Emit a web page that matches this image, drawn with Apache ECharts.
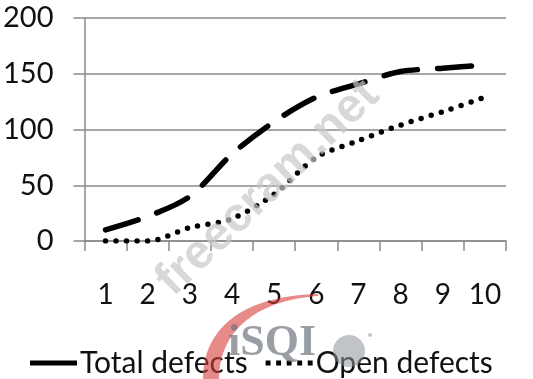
<!DOCTYPE html>
<html>
<head>
<meta charset="utf-8">
<script src="https://cdn.jsdelivr.net/npm/echarts@6/dist/echarts.min.js"></script>
<style>html,body{margin:0;padding:0;background:#fff}#c{width:533px;height:379px}</style>
</head>
<body>
<div id="c"></div>
<script>
var categories = ['1','2','3','4','5','6','7','8','9','10'];
var totalDefects = [10, 22, 40, 78, 107, 129, 141, 152, 155, 158];
var openDefects = [0, 0, 12, 20, 42, 75, 90, 104, 116, 129];
var seriesNames = ['Total defects', 'Open defects'];
var yTicks = [0, 50, 100, 150, 200];

function bez(p0, p1, p2, p3, n) {
  var pts = [];
  for (var i = 0; i <= n; i++) {
    var t = i / n, u = 1 - t;
    pts.push([
      u*u*u*p0[0] + 3*u*u*t*p1[0] + 3*u*t*t*p2[0] + t*t*t*p3[0],
      u*u*u*p0[1] + 3*u*u*t*p1[1] + 3*u*t*t*p2[1] + t*t*t*p3[1]
    ]);
  }
  return pts;
}
var swoosh = bez([203,379],[203,330],[240,296],[318,294],30)
  .concat(bez([318,296],[258,300],[219,330],[219,379],30));

var FONT = 'Lato';
var chart = echarts.init(document.getElementById('c'), null, {renderer: 'canvas'});
chart.setOption({
  animation: false,
  backgroundColor: '#fff',
  grid: {left: 83, right: 27, top: 18, bottom: 138, containLabel: false},
  xAxis: {
    type: 'category',
    data: categories,
    boundaryGap: true,
    axisLine: {lineStyle: {color: '#8a8a8a', width: 1.5}},
    axisTick: {show: true, length: 10, lineStyle: {color: '#8a8a8a', width: 1.5}},
    axisLabel: {color: '#111', fontFamily: FONT, fontSize: 28, margin: 40, interval: 0}
  },
  yAxis: {
    type: 'value',
    min: yTicks[0], max: yTicks[yTicks.length - 1], interval: 50,
    axisLine: {show: true, lineStyle: {color: '#8a8a8a', width: 1.5}},
    axisTick: {show: true, length: 11, lineStyle: {color: '#8a8a8a', width: 1.5}},
    splitLine: {show: true, lineStyle: {color: '#8a8a8a', width: 1.5}},
    axisLabel: {color: '#111', fontFamily: FONT, fontSize: 29, margin: 31}
  },
  legend: {
    left: 25, top: 343,
    itemWidth: 47, itemHeight: 5, itemGap: 18,
    textStyle: {color: '#111', fontFamily: FONT, fontSize: 30, padding: [0, 0, 0, -2]},
    data: [
      {name: seriesNames[0], icon: 'path://M0,0 H48 V5 H0 Z', itemStyle: {color: '#000'}},
      {name: seriesNames[1], icon: 'path://M0,0 h5 v5 h-5 Z M10.75,0 h5 v5 h-5 Z M21.5,0 h5 v5 h-5 Z M32.25,0 h5 v5 h-5 Z M43,0 h5 v5 h-5 Z', itemStyle: {color: '#000'}}
    ]
  },
  series: [
    {
      name: seriesNames[0], type: 'line', data: totalDefects,
      smooth: 0.3, symbol: 'none',
      itemStyle: {color: '#000'},
      lineStyle: {color: '#000', width: 5.5, type: [34, 20], cap: 'round', join: 'round'}
    },
    {
      name: seriesNames[1], type: 'line', data: openDefects,
      smooth: 0.3, symbol: 'none',
      itemStyle: {color: '#000'},
      lineStyle: {color: '#000', width: 5.5, type: [0, 10.5], cap: 'round'}
    }
  ],
  graphic: [
    {
      type: 'text', x: 268, y: 188, rotation: Math.PI / 4.1, z: 100,
      style: {text: 'freecram.net', fill: 'rgba(200,200,200,0.7)', font: 'bold 48px "Liberation Sans", Arial, sans-serif', textAlign: 'center', textVerticalAlign: 'middle'}
    },
    {
      type: 'polygon', z: 101,
      shape: {points: swoosh},
      style: {fill: 'rgba(215,60,60,0.6)'}
    },
    {
      type: 'text', x: 228, y: 366, z: 101,
      style: {text: 'iSQI', fill: 'rgba(110,115,125,0.7)', font: 'bold 44px "Liberation Serif", serif', textAlign: 'left', textVerticalAlign: 'bottom'}
    },
    {
      type: 'circle', z: 101,
      shape: {cx: 349, cy: 351, r: 16},
      style: {fill: 'rgba(140,145,155,0.55)'}
    },
    {
      type: 'circle', z: 101,
      shape: {cx: 370, cy: 335, r: 2},
      style: {fill: 'rgba(160,160,160,0.6)'}
    }
  ]
});
</script>
</body>
</html>
